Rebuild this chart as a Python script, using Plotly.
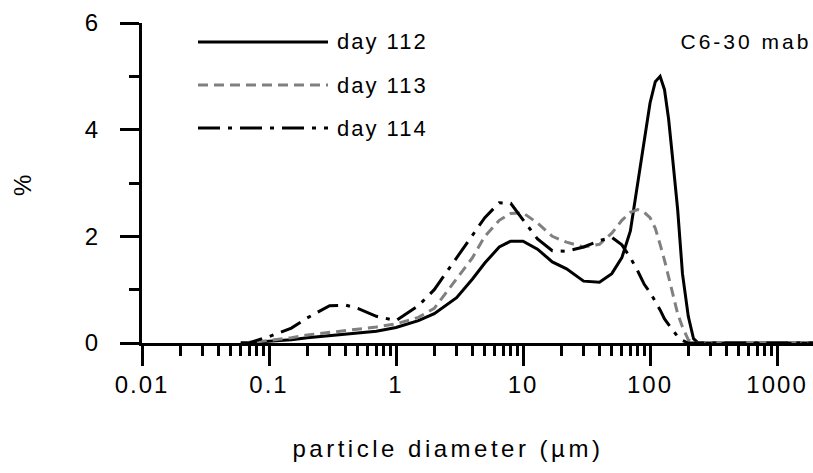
import plotly.graph_objects as go

# Particle size distributions (volume %, log-spaced diameters in µm)
diam_112 = [0.06, 0.08, 0.1, 0.15, 0.2, 0.3, 0.5, 0.7, 1, 1.5, 2, 3, 4, 5, 6.5, 8, 10, 13, 17, 22,
            30, 40, 50, 60, 70, 80, 90, 100, 110, 120, 130, 140, 150, 165, 180, 200, 220, 240, 500, 2000]
pct_112 = [0.0, 0.02, 0.04, 0.06, 0.10, 0.14, 0.19, 0.22, 0.29, 0.42, 0.55, 0.85, 1.20, 1.50, 1.80, 1.91,
           1.91, 1.76, 1.52, 1.39, 1.16, 1.14, 1.30, 1.60, 2.10, 3.00, 3.75, 4.50, 4.90, 5.00, 4.75, 4.20,
           3.50, 2.50, 1.30, 0.50, 0.08, 0.0, 0.0, 0.0]

diam_113 = [0.06, 0.08, 0.1, 0.15, 0.2, 0.3, 0.5, 0.7, 1, 1.5, 2, 3, 4, 5, 6.5, 8, 10, 13, 17, 22,
            30, 40, 50, 60, 70, 80, 90, 100, 110, 120, 130, 150, 165, 180, 200, 220, 500, 2000]
pct_113 = [0.0, 0.02, 0.05, 0.10, 0.15, 0.20, 0.26, 0.30, 0.36, 0.48, 0.65, 1.20, 1.60, 2.00, 2.30, 2.43,
           2.44, 2.25, 2.00, 1.89, 1.80, 1.85, 2.06, 2.30, 2.45, 2.50, 2.45, 2.35, 2.15, 1.85, 1.55, 0.95,
           0.55, 0.30, 0.06, 0.0, 0.0, 0.0]

diam_114 = [0.06, 0.07, 0.08, 0.1, 0.15, 0.2, 0.3, 0.4, 0.5, 0.7, 1, 1.5, 2, 3, 4, 5, 6.5, 8, 10, 13,
            17, 22, 30, 40, 50, 60, 70, 80, 90, 100, 120, 130, 150, 165, 180, 200, 500, 2000]
pct_114 = [0.0, 0.0, 0.05, 0.12, 0.28, 0.47, 0.70, 0.71, 0.65, 0.50, 0.42, 0.70, 1.00, 1.60, 2.03, 2.35,
           2.63, 2.62, 2.31, 1.95, 1.73, 1.72, 1.80, 1.92, 1.98, 1.84, 1.60, 1.35, 1.10, 0.95, 0.62, 0.45,
           0.25, 0.12, 0.05, 0.0, 0.0, 0.0]

series_names = ["day 112", "day 113", "day 114"]
x_tickvals = [0.01, 0.1, 1, 10, 100, 1000]
x_ticktext = ["0.01", "0.1", "1", "10", "100", "1000"]
y_tickvals = [0, 2, 4, 6]
sample_label = "C6-30 mab"
x_title = "particle diameter (µm)"
y_title = "%"

styles = [
    dict(color="#000000", width=3, dash="solid"),
    dict(color="#808080", width=3, dash="10px,6px"),
    dict(color="#000000", width=3, dash="22px,8px,4px,8px"),
]

fig = go.Figure()
for xs, ys, name, st in zip([diam_112, diam_113, diam_114], [pct_112, pct_113, pct_114],
                            series_names, styles):
    fig.add_trace(go.Scatter(x=xs, y=ys, mode="lines", name=name, line=st, showlegend=False))

FONT = "Liberation Sans, Arial, sans-serif"
L, R, T, B = 142, 0, 23, 130
W, H = 813, 473
pw, ph = W - L - R, H - T - B


def px_x(px):
    return (px - L) / pw


def px_y(py):
    return (H - B - py) / ph


# hand-drawn legend block in the upper left
legend_rows = [42, 85, 128]
for name, st, yy in zip(series_names, styles, legend_rows):
    fig.add_shape(type="line", xref="paper", yref="paper",
                  x0=px_x(198), x1=px_x(328), y0=px_y(yy), y1=px_y(yy),
                  line=dict(color=st["color"], width=3, dash=st["dash"]))
    fig.add_annotation(text=name, xref="paper", yref="paper", x=px_x(342), y=px_y(yy),
                       xanchor="left", yanchor="middle", showarrow=False,
                       font=dict(family=FONT, size=22, color="#000"))

fig.add_annotation(text=sample_label, xref="paper", yref="paper", x=px_x(800), y=px_y(42),
                   xanchor="right", yanchor="middle", showarrow=False,
                   font=dict(family=FONT, size=21, color="#000"))
fig.add_annotation(text=x_title, xref="paper", yref="paper", x=px_x(448), y=px_y(448),
                   xanchor="center", yanchor="middle", showarrow=False,
                   font=dict(family=FONT, size=24, color="#000"))
fig.add_annotation(text=y_title, xref="paper", yref="paper", x=px_x(22), y=px_y(185),
                   xanchor="center", yanchor="middle", showarrow=False, textangle=-90,
                   font=dict(family=FONT, size=24, color="#000"))

minor_x = [m * 10 ** e for e in range(-2, 4) for m in range(2, 10)]

fig.update_xaxes(type="log", range=[-2, 3.283], tickmode="array", tickvals=x_tickvals,
                 ticktext=x_ticktext, ticks="outside", ticklen=20, tickwidth=3, tickcolor="#000",
                 showline=True, linecolor="#000", linewidth=3, showgrid=False, zeroline=False,
                 tickfont=dict(family=FONT, size=24, color="#000"), ticklabelstandoff=-2,
                 minor=dict(tickmode="array", tickvals=minor_x, ticks="outside", ticklen=10,
                            tickwidth=3, tickcolor="#000", showgrid=False),
                 layer="below traces")
fig.update_yaxes(range=[0, 6], tickmode="array", tickvals=y_tickvals, ticks="outside",
                 ticklen=19, tickwidth=3, tickcolor="#000", showline=True, linecolor="#000",
                 linewidth=3, showgrid=False, zeroline=False,
                 tickfont=dict(family=FONT, size=24, color="#000"), ticklabelstandoff=15,
                 minor=dict(dtick=1, ticks="outside", ticklen=10, tickwidth=3, tickcolor="#000",
                            showgrid=False))

fig.update_layout(width=W, height=H, margin=dict(l=L, r=R, t=T, b=B, pad=0),
                  paper_bgcolor="white", plot_bgcolor="white", showlegend=False)

spacing_css = (
    "<style>"
    ".xtick text, .ytick text {letter-spacing: 2px;}"
    ".annotation .annotation-text {letter-spacing: 2px;}"
    ".annotation[data-index=\"3\"] .annotation-text {letter-spacing: 3px;}"
    ".annotation[data-index=\"4\"] .annotation-text {letter-spacing: 3.5px;}"
    "</style>"
)
post = "document.head.insertAdjacentHTML('beforeend', '%s');" % spacing_css.replace("'", "\\'")

fig.write_html("out.html", post_script=post)
